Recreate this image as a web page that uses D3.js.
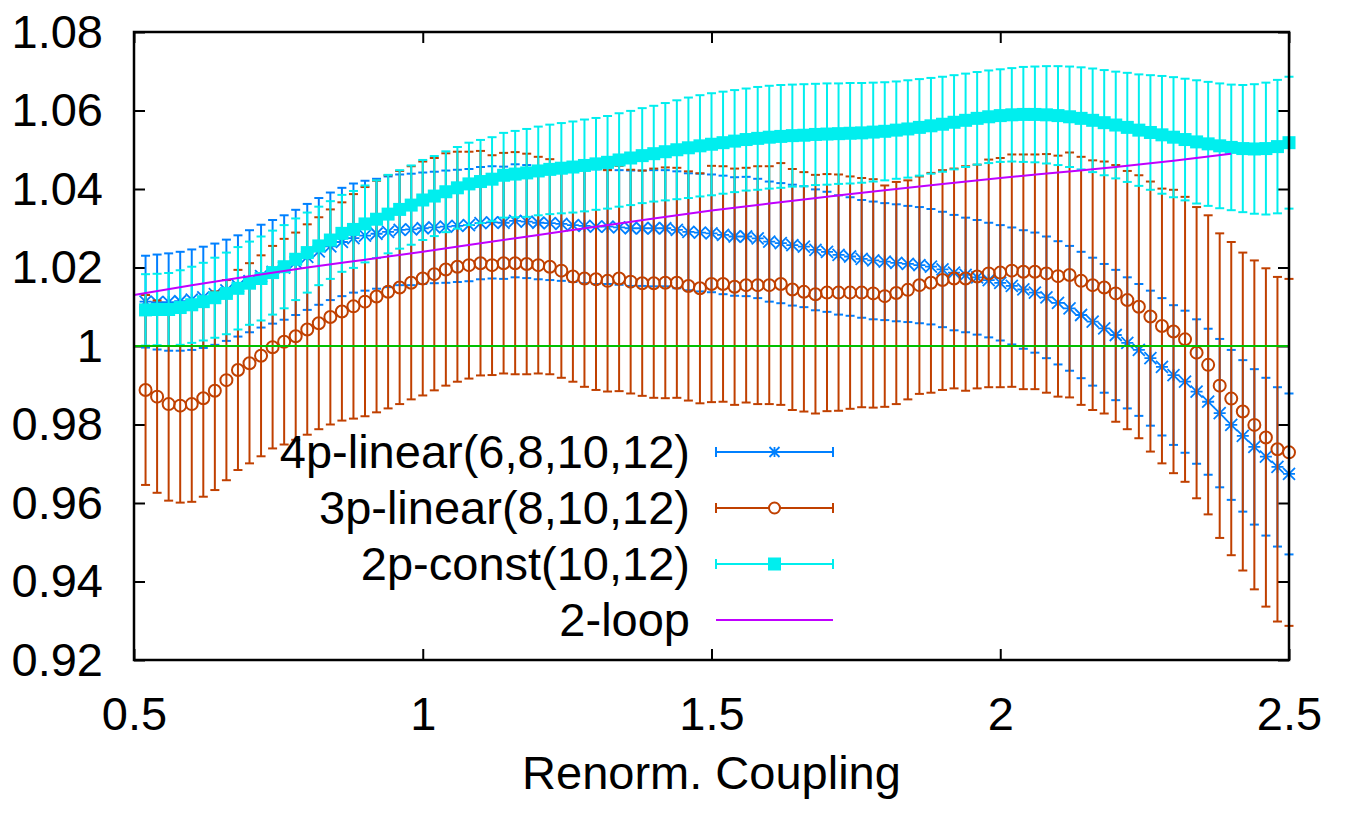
<!DOCTYPE html>
<html>
<head>
<meta charset="utf-8">
<script src="https://cdn.jsdelivr.net/npm/d3@7"></script>
<style>
  body { margin: 0; background: #fff; }
  text { font-family: "Liberation Sans", Arial, Helvetica, sans-serif; }
</style>
</head>
<body>
<svg id="chart" width="1352" height="822"></svg>
<script>
// couplings (x) of the data points
var coupling = [0.52,0.54,0.56,0.58,0.60,0.62,0.64,0.66,0.68,0.70,0.72,0.74,0.76,0.78,0.80,0.82,0.84,0.86,0.88,0.90,
  0.92,0.94,0.96,0.98,1.00,1.02,1.04,1.06,1.08,1.10,1.12,1.14,1.16,1.18,1.20,1.22,1.24,1.26,1.28,1.30,
  1.32,1.34,1.36,1.38,1.40,1.42,1.44,1.46,1.48,1.50,1.52,1.54,1.56,1.58,1.60,1.62,1.64,1.66,1.68,1.70,
  1.72,1.74,1.76,1.78,1.80,1.82,1.84,1.86,1.88,1.90,1.92,1.94,1.96,1.98,2.00,2.02,2.04,2.06,2.08,2.10,
  2.12,2.14,2.16,2.18,2.20,2.22,2.24,2.26,2.28,2.30,2.32,2.34,2.36,2.38,2.40,2.42,2.44,2.46,2.48,2.50];

// 4p-linear(6,8,10,12)
var fourPVal = [1.0113,1.0112,1.0112,1.0114,1.0118,1.0124,1.0132,1.0142,1.0153,1.0165,1.0178,
  1.0189,1.0200,1.0213,1.0227,1.0241,1.0254,1.0265,1.0275,1.0281,1.0286,
  1.0291,1.0296,1.0297,1.0300,1.0302,1.0304,1.0306,1.0308,1.0313,1.0315,
  1.0314,1.0319,1.0317,1.0314,1.0313,1.0311,1.0308,1.0306,1.0304,1.0304,
  1.0302,1.0300,1.0300,1.0300,1.0300,1.0296,1.0291,1.0289,1.0287,1.0283,
  1.0279,1.0279,1.0274,1.0266,1.0262,1.0257,1.0253,1.0245,1.0240,1.0232,
  1.0228,1.0222,1.0218,1.0215,
  1.0212,1.0209,1.0206,1.0202,1.0195,1.0187,
  1.0181,1.0175,1.0168,1.0161,1.0153,1.0144,1.0136,1.0124,1.0110,1.0096,
  1.0079,1.0062,1.0045,1.0028,1.0008,0.9990,0.9969,0.9947,0.9926,0.9909,
  0.9884,0.9858,0.9829,0.9799,0.9771,0.9743,0.9718,0.9692,0.9674];
var fourPErr = [0.0117,0.0121,0.0124,0.0126,0.0128,0.0129,0.0129,0.0129,0.0129,0.0130,0.0131,
  0.0132,0.0133,0.0134,0.0135,0.0136,0.0137,0.0138,0.0139,0.0140,0.0140,
  0.0141,0.0141,0.0142,0.0142,0.0142,0.0143,0.0143,0.0143,0.0143,0.0143,
  0.0143,0.0144,0.0144,0.0144,0.0145,0.0145,0.0145,0.0146,0.0146,0.0146,
  0.0146,0.0147,0.0147,0.0148,0.0148,0.0149,0.0149,0.0150,0.0150,0.0151,
  0.0151,0.0152,0.0152,0.0153,0.0153,0.0154,0.0154,0.0154,0.0153,0.0152,
  0.0151,0.0150,0.0150,0.0149,0.0149,0.0148,0.0148,0.0147,0.0147,0.0147,
  0.0146,0.0146,0.0146,0.0147,0.0149,0.0151,0.0153,0.0155,0.0157,0.0159,
  0.0161,0.0163,0.0164,0.0166,0.0167,0.0168,0.0172,0.0175,0.0178,0.0181,
  0.0184,0.0186,0.0189,0.0191,0.0193,0.0198,0.0201,0.0203,0.0205];

// 3p-linear(8,10,12)
var threePVal = [0.9888,0.9871,0.9852,0.9848,0.9852,0.9867,0.9886,0.9913,0.9939,0.9956,0.9975,0.9997,1.0011,1.0025,
  1.0042,1.0058,1.0074,1.0088,1.0101,1.0113,1.0126,1.0138,1.0149,1.0161,1.0172,1.0183,1.0195,1.0202,1.0206,1.0211,1.0206,
  1.0211,1.0211,1.0209,1.0206,1.0202,1.0192,1.0177,1.0172,1.0170,1.0166,
  1.0172,1.0164,1.0160,1.0160,1.0161,1.0161,1.0153,1.0147,1.0158,1.0158,
  1.0151,1.0155,1.0155,1.0155,1.0158,1.0144,1.0138,1.0132,1.0136,1.0136,
  1.0136,1.0136,1.0134,1.0127,1.0135,1.0143,1.0155,1.0161,1.0168,1.0172,
  1.0172,1.0177,1.0185,1.0187,1.0192,1.0189,1.0189,1.0185,1.0178,1.0181,
  1.0166,1.0155,1.0149,1.0134,1.0117,1.0100,1.0075,1.0051,1.0037,1.0017,
  0.9983,0.9952,0.9899,0.9866,0.9833,0.9799,0.9767,0.9737,0.9729];
var threePErr = [0.0242,0.0245,0.0246,0.0247,0.0249,0.0251,0.0253,0.0255,0.0255,0.0255,0.0256,
  0.0258,0.0262,0.0264,0.0268,0.0270,0.0274,0.0278,0.0286,0.0292,0.0295,
  0.0297,0.0297,0.0297,0.0298,0.0296,0.0296,0.0293,0.0289,0.0286,0.0280,
  0.0281,0.0283,0.0281,0.0276,0.0274,0.0273,0.0268,0.0276,0.0282,0.0282,
  0.0287,0.0285,0.0287,0.0292,0.0294,0.0293,0.0292,0.0293,0.0301,0.0300,
  0.0301,0.0299,0.0303,0.0303,0.0308,0.0307,0.0305,0.0304,0.0302,0.0301,
  0.0296,0.0292,0.0291,0.0282,0.0283,0.0279,0.0277,0.0280,0.0280,0.0280,
  0.0286,0.0285,0.0290,0.0292,0.0296,0.0299,0.0299,0.0304,0.0307,0.0312,
  0.0316,0.0318,0.0321,0.0327,0.0329,0.0335,0.0344,0.0350,0.0361,0.0363,
  0.0371,0.0381,0.0388,0.0399,0.0405,0.0419,0.0431,0.0439,0.0442];

// 2p-const(10,12)
var twoPVal = [1.0092,1.0093,1.0093,1.0098,1.0105,1.0113,1.0123,1.0134,1.0147,1.0160,1.0172,
  1.0187,1.0202,1.0221,1.0238,1.0255,1.0270,1.0287,1.0297,1.0311,1.0323,
  1.0336,1.0348,1.0359,1.0372,1.0382,1.0393,1.0403,1.0413,1.0419,1.0425,
  1.0435,1.0438,1.0441,1.0446,1.0450,1.0453,1.0456,1.0460,1.0464,1.0468,
  1.0474,1.0479,1.0485,1.0490,1.0495,1.0500,1.0505,1.0510,1.0514,1.0518,
  1.0522,1.0526,1.0529,1.0532,1.0534,1.0536,1.0537,1.0539,1.0540,1.0541,
  1.0542,1.0543,1.0545,1.0547,1.0550,1.0553,1.0557,1.0561,1.0565,1.0570,
  1.0575,1.0580,1.0584,1.0587,1.0589,1.0590,1.0590,1.0589,1.0587,1.0584,
  1.0580,1.0575,1.0569,1.0563,1.0557,1.0550,1.0544,1.0538,1.0532,1.0526,
  1.0520,1.0515,1.0510,1.0506,1.0503,1.0502,1.0503,1.0508,1.0518];
var twoPErr = [0.0091,0.0091,0.0093,0.0095,0.0097,0.0099,0.0102,0.0104,0.0105,0.0106,0.0107,
  0.0107,0.0106,0.0104,0.0102,0.0100,0.0099,0.0098,0.0098,0.0098,0.0099,
  0.0100,0.0100,0.0101,0.0102,0.0102,0.0103,0.0104,0.0105,0.0106,0.0107,
  0.0108,0.0110,0.0112,0.0113,0.0114,0.0115,0.0116,0.0117,0.0117,0.0118,
  0.0119,0.0120,0.0121,0.0122,0.0124,0.0126,0.0128,0.0129,0.0130,0.0130,
  0.0130,0.0130,0.0131,0.0131,0.0131,0.0130,0.0130,0.0129,0.0129,0.0128,
  0.0128,0.0127,0.0126,0.0125,0.0124,0.0124,0.0123,0.0122,0.0121,0.0120,
  0.0119,0.0118,0.0118,0.0118,0.0119,0.0121,0.0122,0.0124,0.0126,0.0128,
  0.0130,0.0132,0.0134,0.0136,0.0139,0.0142,0.0146,0.0150,0.0153,0.0155,
  0.0157,0.0158,0.0159,0.0160,0.0162,0.0165,0.0168,0.0170,0.0168];

// 2-loop curve
var loopX   = [0.5,0.6,0.7,0.8,0.9,1.0,1.1,1.2,1.3,1.4,1.5,1.6,1.7,1.8,1.9,2.0,2.1,2.2,2.3,2.4];
var loopVal = [1.0130,1.0155,1.0178,1.0200,1.0220,1.0240,1.0262,1.0283,1.0304,1.0325,
  1.0345,1.0363,1.0380,1.0397,1.0413,1.0428,1.0442,1.0456,1.0472,1.0490];

var xTicks = [0.5, 1, 1.5, 2, 2.5];
var yTicks = [0.92, 0.94, 0.96, 0.98, 1.00, 1.02, 1.04, 1.06, 1.08];

var seriesNames = ["4p-linear(6,8,10,12)", "3p-linear(8,10,12)", "2p-const(10,12)", "2-loop"];

// set the dimensions and margins of the graph
var margin = {top: 32, right: 63, bottom: 162, left: 134},
    width  = 1352 - margin.left - margin.right,
    height = 822 - margin.top - margin.bottom;

var svg = d3.select("#chart")
  .append("g")
    .attr("transform", "translate(" + margin.left + "," + margin.top + ")");

var x = d3.scaleLinear().domain([0.5, 2.5]).range([0, width]);
var y = d3.scaleLinear().domain([0.92, 1.08]).range([height, 0]);

var fmt = function(d) { return String(+d.toFixed(2)); };
var fontSize = 47;

// axes with inward ticks, mirrored on top and right
var gy = svg.append("g")
  .call(d3.axisLeft(y).tickValues(yTicks).tickSizeInner(-11).tickSizeOuter(0).tickPadding(31).tickFormat(fmt));
var gx = svg.append("g")
  .attr("transform", "translate(0," + height + ")")
  .call(d3.axisBottom(x).tickValues(xTicks).tickSizeInner(-11).tickSizeOuter(0).tickPadding(37).tickFormat(fmt));
var gt = svg.append("g")
  .call(d3.axisTop(x).tickValues(xTicks).tickSizeInner(-11).tickSizeOuter(0).tickFormat(""));
var gr = svg.append("g")
  .attr("transform", "translate(" + width + ",0)")
  .call(d3.axisRight(y).tickValues(yTicks).tickSizeInner(-11).tickSizeOuter(0).tickFormat(""));

[gy, gx, gt, gr].forEach(function(g) {
  g.select(".domain").remove();
  g.selectAll(".tick line").attr("stroke", "#000").attr("stroke-width", 2);
  g.selectAll(".tick text").attr("font-size", fontSize).attr("font-family", null).attr("fill", "#000");
});

// star marker (gnuplot point type 3)
function starPath(s) {
  return "M" + (-s) + ",0H" + s + "M0," + (-s) + "V" + s +
         "M" + (-s) + "," + (-s) + "L" + s + "," + s +
         "M" + (-s) + "," + s + "L" + s + "," + (-s);
}

function makeRows(vals, errs) {
  return coupling.map(function(c, i) { return {x: c, v: vals[i], e: errs[i]}; });
}

var capW = 4.5;

function drawBars(rows, color) {
  var g = svg.append("g").attr("stroke", color).attr("stroke-width", 2).attr("fill", "none");
  g.selectAll("line.bar").data(rows).join("line")
    .attr("class", "bar")
    .attr("x1", function(d) { return x(d.x); })
    .attr("x2", function(d) { return x(d.x); })
    .attr("y1", function(d) { return y(d.v - d.e); })
    .attr("y2", function(d) { return y(d.v + d.e); });
  g.selectAll("line.capHi").data(rows).join("line")
    .attr("class", "capHi")
    .attr("x1", function(d) { return x(d.x) - capW; })
    .attr("x2", function(d) { return x(d.x) + capW; })
    .attr("y1", function(d) { return y(d.v + d.e); })
    .attr("y2", function(d) { return y(d.v + d.e); });
  g.selectAll("line.capLo").data(rows).join("line")
    .attr("class", "capLo")
    .attr("x1", function(d) { return x(d.x) - capW; })
    .attr("x2", function(d) { return x(d.x) + capW; })
    .attr("y1", function(d) { return y(d.v - d.e); })
    .attr("y2", function(d) { return y(d.v - d.e); });
  return g;
}

var colors = {four: "#0080ff", three: "#c04000", two: "#00eeee", loop: "#c000ff", one: "#00c000"};

// 4p-linear: bars + stars
var fourRows = makeRows(fourPVal, fourPErr);
var g4 = drawBars(fourRows, colors.four);
g4.selectAll("path").data(fourRows).join("path")
  .attr("d", starPath(6))
  .attr("stroke-width", 1.8)
  .attr("transform", function(d) { return "translate(" + x(d.x) + "," + y(d.v) + ")"; });

// 3p-linear: bars + open circles
var threeRows = makeRows(threePVal, threePErr);
var g3 = drawBars(threeRows, colors.three);
g3.selectAll("circle").data(threeRows).join("circle")
  .attr("cx", function(d) { return x(d.x); })
  .attr("cy", function(d) { return y(d.v); })
  .attr("r", 6)
  .attr("stroke-width", 2);

// 2p-const: bars + filled squares
var twoRows = makeRows(twoPVal, twoPErr);
var g2 = drawBars(twoRows, colors.two);
g2.selectAll("rect").data(twoRows).join("rect")
  .attr("x", function(d) { return x(d.x) - 6.5; })
  .attr("y", function(d) { return y(d.v) - 6.5; })
  .attr("width", 13)
  .attr("height", 13)
  .attr("fill", colors.two)
  .attr("stroke", "none");

// 2-loop line
var loopData = loopX.map(function(c, i) { return {x: c, v: loopVal[i]}; });
svg.append("path")
  .datum(loopData)
  .attr("fill", "none")
  .attr("stroke", colors.loop)
  .attr("stroke-width", 2)
  .attr("d", d3.line().curve(d3.curveMonotoneX)
    .x(function(d) { return x(d.x); })
    .y(function(d) { return y(d.v); }));

// reference line at 1
svg.append("line")
  .attr("x1", x(0.5)).attr("x2", x(2.5))
  .attr("y1", y(1)).attr("y2", y(1))
  .attr("stroke", colors.one)
  .attr("stroke-width", 2);

// frame
svg.append("rect")
  .attr("width", width).attr("height", height)
  .attr("fill", "none").attr("stroke", "#000").attr("stroke-width", 2.5);

// x axis title
svg.append("text")
  .attr("x", width / 2)
  .attr("y", height + 129)
  .attr("text-anchor", "middle")
  .attr("font-size", fontSize)
  .text("Renorm. Coupling");

// legend
var legend = svg.append("g").attr("transform", "translate(0," + (452 - margin.top) + ")");
var legendColors = [colors.four, colors.three, colors.two, colors.loop];
var lx0 = 716 - margin.left, lx1 = 833 - margin.left, lxm = (lx0 + lx1) / 2;
seriesNames.forEach(function(name, k) {
  var row = legend.append("g").attr("transform", "translate(0," + (k * 56) + ")");
  row.append("text")
    .attr("x", 690 - margin.left)
    .attr("y", 0)
    .attr("dy", "0.35em")
    .attr("text-anchor", "end")
    .attr("font-size", fontSize)
    .text(name);
  var c = legendColors[k];
  row.append("line").attr("x1", lx0).attr("x2", lx1).attr("stroke", c).attr("stroke-width", 2);
  if (k < 3) {
    row.append("line").attr("x1", lx0).attr("x2", lx0).attr("y1", -5).attr("y2", 5).attr("stroke", c).attr("stroke-width", 2);
    row.append("line").attr("x1", lx1).attr("x2", lx1).attr("y1", -5).attr("y2", 5).attr("stroke", c).attr("stroke-width", 2);
  }
  if (k === 0) {
    row.append("path").attr("d", starPath(5)).attr("transform", "translate(" + lxm + ",0)")
      .attr("stroke", c).attr("stroke-width", 1.8).attr("fill", "none");
  } else if (k === 1) {
    row.append("circle").attr("cx", lxm).attr("r", 5.5).attr("fill", "#fff").attr("stroke", c).attr("stroke-width", 2);
  } else if (k === 2) {
    row.append("rect").attr("x", lxm - 6.5).attr("y", -6.5).attr("width", 13).attr("height", 13).attr("fill", c);
  }
});
</script>
</body>
</html>
